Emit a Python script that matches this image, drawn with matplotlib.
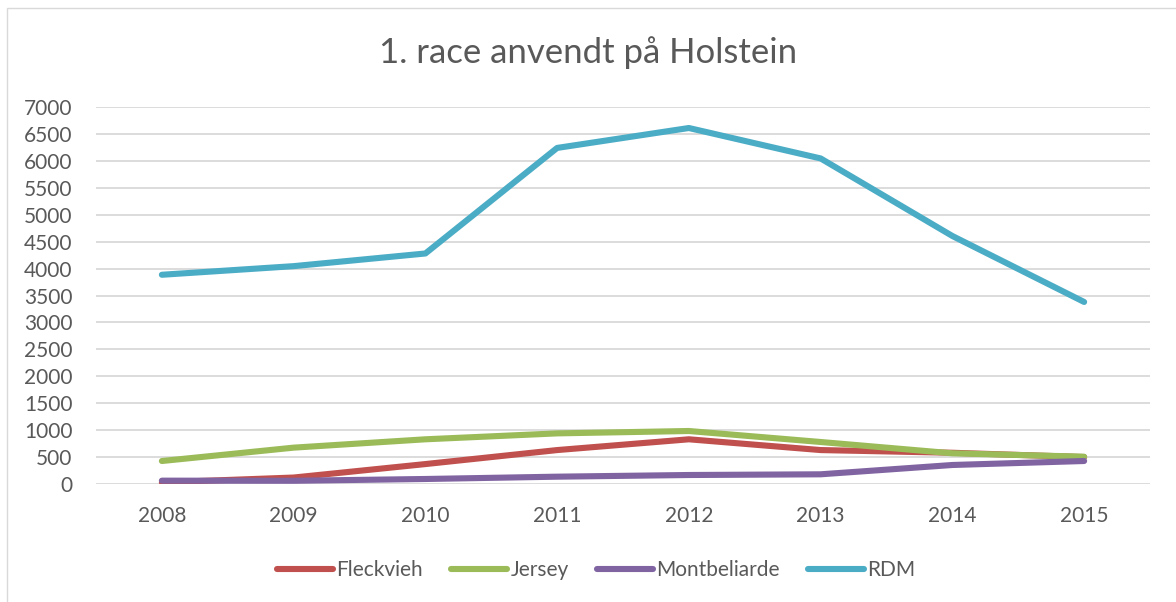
import numpy as np
import matplotlib
matplotlib.use("Agg")
import matplotlib.pyplot as plt
from matplotlib.patches import Rectangle

# -------------------------------------------------------------------
# Data
# -------------------------------------------------------------------
aar = ["2008", "2009", "2010", "2011", "2012", "2013", "2014", "2015"]

fleckvieh = [30, 120, 370, 630, 830, 630, 580, 500]
jersey = [427, 675, 830, 940, 984, 780, 570, 507]
montbeliarde = [62, 60, 93, 136, 167, 180, 353, 427]
rdm = [3885, 4045, 4280, 6240, 6610, 6045, 4605, 3380]

y_ticks = list(range(0, 7001, 500))

serier = [
    ("Fleckvieh", fleckvieh, "#C0504D"),
    ("Jersey", jersey, "#9BBB59"),
    ("Montbeliarde", montbeliarde, "#8064A2"),
    ("RDM", rdm, "#4BACC6"),
]

plt.rcParams["font.family"] = ["Lato", "DejaVu Sans"]
tekst_farve = "#595959"

fig = plt.figure(figsize=(11.76, 6.02), dpi=100)
ax = fig.add_axes([96 / 1176, 1 - 484 / 602, (1150 - 96) / 1176, (484 - 107) / 602])

# ramme om hele diagrammet
fig.patches.append(Rectangle((7 / 1176, -0.01), 1.0, 1 - 8 / 602 + 0.01,
                             transform=fig.transFigure, fill=False,
                             edgecolor="#D9D9D9", linewidth=1.0))

x = np.arange(len(aar))
for navn, vaerdier, farve in serier:
    ax.plot(x, vaerdier, color=farve, linewidth=4.4, label=navn,
            solid_capstyle="round", solid_joinstyle="round")

ax.set_xlim(-0.5, len(aar) - 0.5)
ax.set_ylim(0, 7000)
ax.set_yticks(y_ticks)
ax.set_xticks(x)
ax.set_xticklabels(aar)
ax.yaxis.grid(True, color="#D9D9D9", linewidth=1.3)
ax.set_axisbelow(True)
for s in ax.spines.values():
    s.set_visible(False)
ax.tick_params(axis="both", length=0, colors=tekst_farve, labelsize=15)
ax.tick_params(axis="y", pad=17)
ax.tick_params(axis="x", pad=16)

fig.text(0.5, 1 - 53 / 602, "1. race anvendt på Holstein", ha="center", va="center",
         fontsize=25, color=tekst_farve)

fig.legend(loc="center", bbox_to_anchor=(0.507, 1 - 570 / 602), ncol=4, frameon=False,
           fontsize=15, labelcolor=tekst_farve, handlelength=2.7, handletextpad=0.15,
           columnspacing=1.35)

fig.savefig("out.png", dpi=100)
